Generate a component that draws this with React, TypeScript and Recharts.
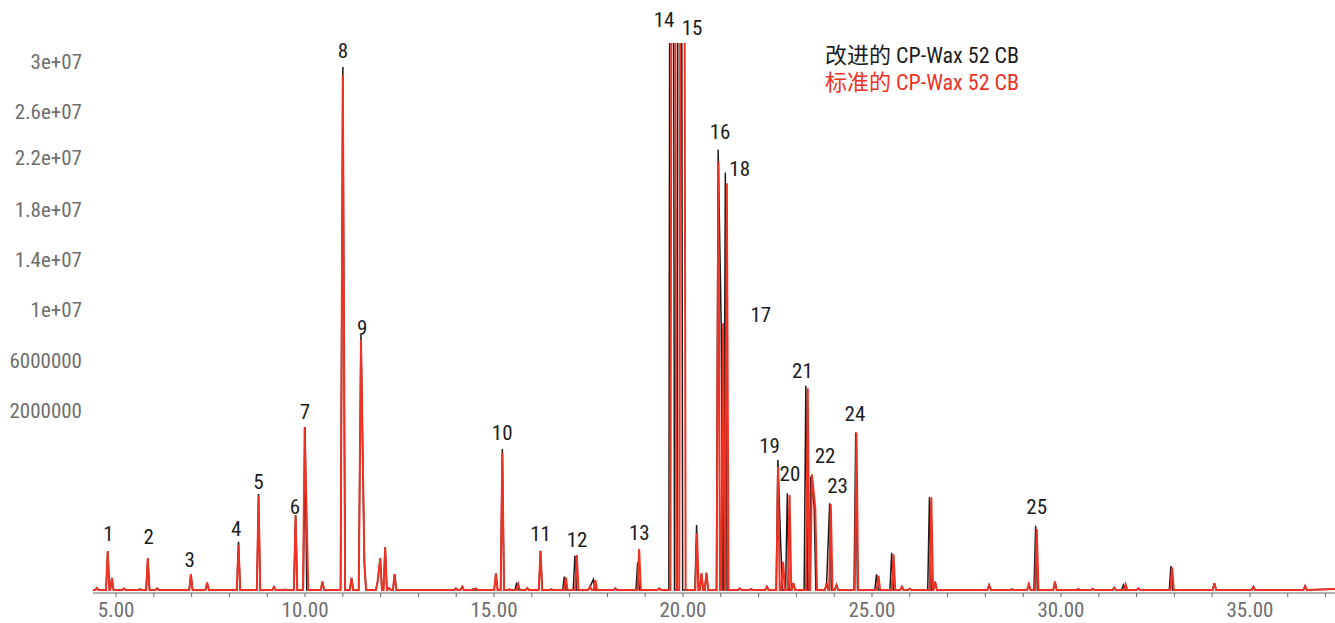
import React from 'react';
import { LineChart, Line, XAxis, YAxis, ReferenceDot, Legend } from 'recharts';

// [retention time (min), height (millions), base half-width (min)?, top half-width (min)?]
type Peak = [number, number, number?, number?];

const SERIES_NAMES = ['改进的 CP-Wax 52 CB', '标准的 CP-Wax 52 CB'];
const SERIES_COLORS = ['#1c1c1c', '#ee3224'];

const RUN_START = 4.39;
const RUN_END = 37.25;
const BASELINE_START = 0.17;
const BASELINE_END = 0.22;
const BASELINE = 0.17;
const HALF_WIDTH = 0.045;

const BLACK_PEAKS: Peak[] = [
  [4.49, 0.28], [4.78, 2.37], [4.89, 0.85], [5.21, 0.25], [5.63, 0.22], [5.84, 1.97],
  [6.09, 0.26], [6.98, 1.07], [7.41, 0.58], [8.24, 2.89], [8.77, 5.58], [9.18, 0.34],
  [9.47, 0.2], [9.75, 4.4], [10.0, 9.36], [10.46, 0.64], [11.0, 29.65, 0.06], [11.23, 0.85],
  [11.48, 14.54, 0.06], [11.57, 1.69], [11.92, 0.64], [11.99, 1.96], [12.12, 2.58], [12.22, 0.28],
  [12.37, 1.07], [13.99, 0.26], [14.16, 0.36], [14.45, 0.23], [15.05, 1.11], [15.22, 8.12],
  [15.4, 0.21], [15.6, 0.58], [15.88, 0.28], [16.23, 2.38], [16.52, 0.21], [16.86, 0.92],
  [17.14, 2.1], [17.54, 0.36], [17.63, 0.77], [18.21, 0.26], [18.8, 1.73], [19.37, 0.26],
  [19.7, 36, 0.075, 0.05], [19.915, 36, 0.075, 0.05], [20.36, 3.83], [20.49, 1.11], [20.62, 1.14],
  [20.93, 25.0], [21.01, 15.1], [21.12, 23.7], [21.5, 0.26], [21.8, 0.22], [22.22, 0.36],
  [22.51, 7.5], [22.59, 2.42], [22.76, 5.62], [22.92, 0.56], [23.25, 11.68], [23.38, 6.56],
  [23.47, 4.86], [23.8, 0.55], [23.88, 5.06], [24.06, 0.45], [24.57, 9.04], [25.12, 1.05],
  [25.52, 2.27], [25.79, 0.36], [26.0, 0.24], [26.52, 5.39], [26.67, 0.64], [28.1, 0.45],
  [28.7, 0.22], [29.15, 0.49], [29.33, 3.79], [29.84, 0.64], [30.46, 0.23], [30.84, 0.24],
  [31.41, 0.3], [31.65, 0.45], [32.05, 0.26], [32.91, 1.52], [34.06, 0.55], [35.09, 0.36],
  [36.46, 0.39],
];

const RED_PEAKS: Peak[] = [
  [4.49, 0.28], [4.78, 2.37], [4.89, 0.85], [5.21, 0.25], [5.63, 0.22], [5.84, 1.97],
  [6.09, 0.26], [6.98, 1.07], [7.41, 0.58], [8.24, 2.71], [8.77, 5.48], [9.18, 0.34],
  [9.47, 0.2], [9.75, 4.36], [9.99, 9.36], [10.04, 4.6], [10.46, 0.64], [11.0, 29.2, 0.06],
  [11.23, 0.85], [11.48, 14.26, 0.06], [11.57, 1.69], [11.92, 0.64], [11.99, 1.96], [12.12, 2.58],
  [12.22, 0.28], [12.37, 1.07], [13.99, 0.26], [14.16, 0.36], [14.52, 0.26], [15.05, 1.11],
  [15.22, 7.91], [15.4, 0.21], [15.64, 0.49], [15.88, 0.28], [16.23, 2.38], [16.52, 0.21],
  [16.9, 0.88], [17.19, 2.14], [17.54, 0.36], [17.68, 0.73], [18.21, 0.26], [18.84, 2.48],
  [19.37, 0.26], [19.745, 36, 0.08, 0.05], [19.985, 36, 0.085, 0.055], [20.37, 3.38],
  [20.49, 1.11], [20.62, 1.14], [20.935, 24.3], [21.06, 15.2], [21.16, 23.1], [21.5, 0.26],
  [21.8, 0.22], [22.22, 0.36], [22.515, 7.12], [22.65, 1.76], [22.82, 5.52], [22.92, 0.56],
  [23.3, 11.54], [23.41, 6.69], [23.5, 4.77], [23.8, 0.55], [23.91, 5.02], [24.06, 0.45],
  [24.59, 9.04], [25.17, 0.98], [25.57, 2.18], [25.79, 0.36], [26.0, 0.24], [26.57, 5.39],
  [26.67, 0.64], [28.1, 0.45], [28.7, 0.22], [29.15, 0.49], [29.36, 3.61], [29.84, 0.64],
  [30.46, 0.23], [30.84, 0.24], [31.41, 0.3], [31.71, 0.49], [32.05, 0.26], [32.94, 1.45],
  [34.06, 0.55], [35.09, 0.36], [36.46, 0.39],
];

const PEAK_LABELS = ['1', '2', '3', '4', '5', '6', '7', '8', '9', '10', '11', '12', '13',
  '14', '15', '16', '17', '18', '19', '20', '21', '22', '23', '24', '25'];
const PEAK_LABEL_TIMES = [4.8, 5.865, 6.95, 8.18, 8.765, 9.73, 10.0, 11.005, 11.51, 15.217,
  16.23, 17.196, 18.844, 19.497, 20.238, 20.979, 22.06, 21.5, 22.29, 22.83, 23.16, 23.76,
  24.09, 24.55, 29.357];
const PEAK_LABEL_HEIGHTS = [3.33, 3.21, 1.86, 3.61, 6.31, 4.85, 10.2, 30.55, 14.99, 9.05,
  3.33, 3.04, 3.41, 32.35, 31.87, 26.0, 15.67, 23.95, 8.29, 6.71, 12.52, 7.73, 6.04, 10.09, 4.86];

const Y_MAX = 31; // millions
const Y_MAJOR_TICKS = [0, 2, 4, 6, 8, 10, 12, 14, 16, 18, 20, 22, 24, 26, 28, 30];
const Y_LABEL_POSITIONS = [29.95, 27.13, 24.52, 21.59, 18.77, 15.95, 13.13, 10.31];
const Y_LABEL_TEXTS = ['3e+07', '2.6e+07', '2.2e+07', '1.8e+07', '1.4e+07', '1e+07', '6000000', '2000000'];
const X_TICKS = [5, 6, 7, 8, 9, 10, 11, 12, 13, 14, 15, 16, 17, 18, 19, 20, 21, 22, 23, 24, 25,
  26, 27, 28, 29, 30, 31, 32, 33, 34, 35, 36, 37];

const MEGA = 1e6;
const FONT = "'Roboto Condensed', 'Noto Sans CJK SC', sans-serif";

function buildTrace(peaks: Peak[]) {
  const sorted = [...peaks].sort((a, b) => a[0] - b[0]);
  const pts: { t: number; v: number }[] = [{ t: RUN_START, v: BASELINE_START * MEGA }];
  sorted.forEach((p, i) => {
    const [t, h, hw = HALF_WIDTH, top = 0] = p;
    const prev = sorted[i - 1];
    const next = sorted[i + 1];
    const overlapPrev = prev && prev[0] + (prev[2] ?? HALF_WIDTH) > t - hw;
    const overlapNext = next && t + hw > next[0] - (next[2] ?? HALF_WIDTH);
    if (!overlapPrev) pts.push({ t: t - hw, v: BASELINE * MEGA });
    if (top) {
      pts.push({ t: t - top, v: h * MEGA });
      pts.push({ t: t + top, v: h * MEGA });
    } else {
      pts.push({ t, v: h * MEGA });
    }
    if (!overlapNext) pts.push({ t: t + hw, v: BASELINE * MEGA });
  });
  pts.push({ t: RUN_END, v: BASELINE_END * MEGA });
  return pts;
}

const blackTrace = buildTrace(BLACK_PEAKS);
const redTrace = buildTrace(RED_PEAKS);
const yMinorTicks = Array.from({ length: 78 }, (_, i) => i * 0.4 * MEGA);

const renderLegend = (props: any) => {
  const items = props.payload || [];
  return (
    <div style={{ fontFamily: FONT, fontSize: 22, lineHeight: '27px', whiteSpace: 'nowrap' }}>
      {items.map((it: any, i: number) => (
        <div key={i} style={{ color: it.color, height: 27 }}>{it.value}</div>
      ))}
    </div>
  );
};

export default function App() {
  return (
    <div style={{ position: 'absolute', left: 0, top: 0, width: 1335, height: 623, background: '#fff', fontFamily: FONT }}>
      <LineChart width={1335} height={623} margin={{ top: 43, right: 0, bottom: 0, left: 0 }}>
        <XAxis
          dataKey="t"
          type="number"
          domain={[RUN_START, RUN_END]}
          allowDataOverflow
          ticks={X_TICKS}
          interval={0}
          height={30}
          tickSize={4}
          tickMargin={5}
          tickFormatter={(v: number) => (v % 5 === 0 ? v.toFixed(2) : '')}
          tick={{ fill: '#6e6e6e', fontSize: 21, fontFamily: FONT }}
          axisLine={{ stroke: '#666', strokeWidth: 1.2 }}
          tickLine={{ stroke: '#666' }}
        />
        <YAxis
          yAxisId="minor"
          type="number"
          domain={[0, Y_MAX * MEGA]}
          allowDataOverflow
          ticks={yMinorTicks}
          interval={0}
          width={0}
          tickSize={2.5}
          tick={false}
          axisLine={false}
          tickLine={{ stroke: '#777' }}
        />
        <YAxis
          yAxisId="major"
          type="number"
          domain={[0, Y_MAX * MEGA]}
          allowDataOverflow
          ticks={Y_MAJOR_TICKS.map((v) => v * MEGA)}
          interval={0}
          width={0}
          tickSize={5}
          tick={false}
          axisLine={{ stroke: '#666', strokeWidth: 1.2 }}
          tickLine={{ stroke: '#666' }}
        />
        <YAxis
          yAxisId="main"
          type="number"
          domain={[0, Y_MAX * MEGA]}
          allowDataOverflow
          ticks={Y_LABEL_POSITIONS.map((v) => v * MEGA)}
          interval={0}
          width={93}
          tickSize={6}
          tickMargin={5}
          tickLine={false}
          axisLine={false}
          tickFormatter={(_v: number, i: number) => Y_LABEL_TEXTS[i]}
          tick={{ fill: '#6e6e6e', fontSize: 21, fontFamily: FONT }}
        />
        <Legend
          layout="vertical"
          verticalAlign="middle"
          align="center"
          content={renderLegend}
          wrapperStyle={{ left: 825, top: 42, width: 'auto', height: 'auto' }}
        />
        <Line
          yAxisId="main"
          data={blackTrace}
          dataKey="v"
          name={SERIES_NAMES[0]}
          stroke={SERIES_COLORS[0]}
          strokeWidth={1.5}
          dot={false}
          activeDot={false}
          type="linear"
          isAnimationActive={false}
        />
        <Line
          yAxisId="main"
          data={redTrace}
          dataKey="v"
          name={SERIES_NAMES[1]}
          stroke={SERIES_COLORS[1]}
          strokeWidth={2}
          dot={false}
          activeDot={false}
          type="linear"
          isAnimationActive={false}
        />
        {PEAK_LABELS.map((lab, i) => (
          <ReferenceDot
            key={lab}
            yAxisId="main"
            x={PEAK_LABEL_TIMES[i]}
            y={PEAK_LABEL_HEIGHTS[i] * MEGA}
            r={0}
            fill="none"
            stroke="none"
            ifOverflow="visible"
            label={{ value: lab, position: 'center', fill: '#1c1c1c', fontSize: 21, fontFamily: FONT }}
          />
        ))}
      </LineChart>
    </div>
  );
}
